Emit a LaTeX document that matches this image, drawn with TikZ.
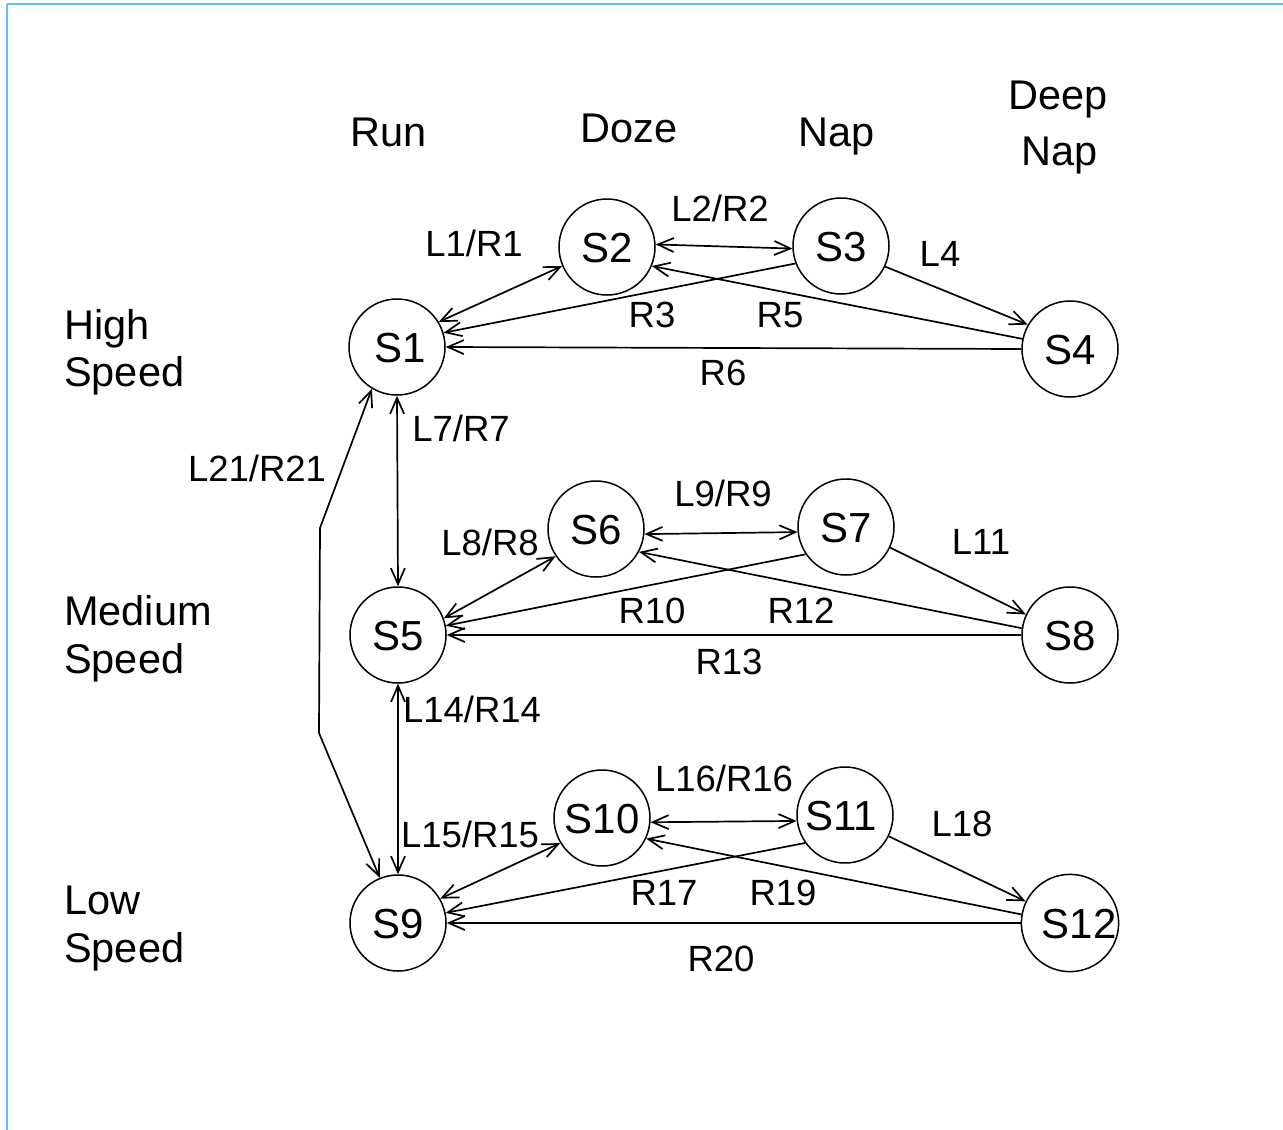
\documentclass[tikz,border=0pt]{standalone}
\usepackage{fontspec}
\setmainfont{Liberation Sans}
\usetikzlibrary{arrows.meta}
\definecolor{framecol}{HTML}{66BBFF}
\begin{document}
\begin{tikzpicture}[x=1pt,y=-1pt,
  state/.style={draw, circle, minimum size=96pt, inner sep=0pt, line width=1.5pt,
    font=\fontsize{42}{46}\selectfont, text height=30pt, text depth=0pt},
  lab/.style={font=\fontsize{36.5}{41}\selectfont, inner sep=0pt, text height=26pt, text depth=0pt},
  hdr/.style={font=\fontsize{41.5}{47.5}\selectfont, inner sep=0pt, text height=29.7pt, text depth=0pt},
  edge/.style={line width=1.7pt},
  arr/.style={edge, -{Straight Barb[length=16pt,width=14pt]}},
  barr/.style={edge, {Straight Barb[length=16pt,width=14pt]}-{Straight Barb[length=16pt,width=14pt]}},
  framel/.style={draw=framecol}
]
\useasboundingbox (0,0) rectangle (1283,1130);
\draw[framel, line width=2.5pt] (7,4) -- (1283,4);
\draw[framel, line width=2pt] (7,4) -- (7,1130);

% column headers
\node[hdr] (run) at (389,132) {Run};
\node[hdr] (doze) at (629,128) {Doze};
\node[hdr] (nap) at (837,132) {Nap};
\node[hdr] (deep1) at (1058,95) {Deep};
\node[hdr] (deep2) at (1060,151) {Nap};

% row headers
\node[hdr, anchor=west] (hs1) at (64,325) {High};
\node[hdr, anchor=west] (hs2) at (64,372) {Speed};
\node[hdr, anchor=west] (ms1) at (64,611) {Medium};
\node[hdr, anchor=west] (ms2) at (64,659) {Speed};
\node[hdr, anchor=west] (ls1) at (64,900) {Low};
\node[hdr, anchor=west] (ls2) at (64,948) {Speed};

% states
\node[state] (S1) at (397,347) {\hspace*{6pt}S1};
\node[state] (S2) at (607,247) {S2};
\node[state] (S3) at (841,246) {S3};
\node[state] (S4) at (1070,349) {S4};
\node[state] (S5) at (398,635) {S5};
\node[state] (S6) at (596,529) {S6};
\node[state] (S7) at (846,527) {S7};
\node[state] (S8) at (1070,635) {S8};
\node[state] (S9) at (398,923) {S9};
\node[state] (S10) at (602,818) {S10};
\node[state] (S11) at (845,815) {\hspace*{-8pt}S11};
\node[state] (S12) at (1070,923) {\hspace*{18pt}S12};

\coordinate (c1) at (320,528);
\coordinate (c2) at (319,733);

% high speed row
\draw[barr] (S1.31) -- (S2.203);
\draw[barr] (S2.3) -- (S3.183);
\draw[arr] (S3.201) -- (S1.17);
\draw[arr] (S4.168) -- (S2.337);
\draw[arr] (S3.335) -- (S4.150);
\draw[arr] (S4.180) -- (S1.0);
% vertical
\draw[barr] (S1.270) -- (S5.90);
\draw[barr] (S1.239) -- (c1) -- (c2) -- (S9.112);
\draw[barr] (S5.270) -- (S9.90);
% medium speed row
\draw[barr] (S5.20) -- (S6.214);
\draw[barr] (S6.-6) -- (S7.186);
\draw[arr] (S7.214) -- (S5.11);
\draw[arr] (S8.172) -- (S6.332);
\draw[arr] (S7.335) -- (S8.155);
\draw[arr] (S8.180) -- (S5.0);
% low speed row
\draw[barr] (S9.30) -- (S10.211);
\draw[barr] (S10.-5) -- (S11.187);
\draw[arr] (S11.215) -- (S9.12);
\draw[arr] (S12.170) -- (S10.335);
\draw[arr] (S11.334) -- (S12.154);
\draw[arr] (S12.180) -- (S9.0);

% edge labels
\node[lab] (l1) at (474,243) {L1/R1};
\node[lab] (l2) at (720,208) {L2/R2};
\node[lab] (l4) at (940,253) {L4};
\node[lab] (r3) at (652,314) {R3};
\node[lab] (r5) at (780,314) {R5};
\node[lab] (r6) at (723,372) {R6};
\node[lab] (l7) at (461,428) {L7/R7};
\node[lab] (l21) at (257,468) {L21/R21};
\node[lab] (l8) at (490,542) {L8/R8};
\node[lab] (l9) at (723,493) {L9/R9};
\node[lab] (l11) at (981,541) {L11};
\node[lab] (r10) at (652,610) {R10};
\node[lab] (r12) at (801,610) {R12};
\node[lab] (r13) at (729,661) {R13};
\node[lab] (l14) at (472,709) {L14/R14};
\node[lab] (l15) at (470,834) {L15/R15};
\node[lab] (l16) at (724,778) {L16/R16};
\node[lab] (l18) at (962,823) {L18};
\node[lab] (r17) at (664,892) {R17};
\node[lab] (r19) at (783,892) {R19};
\node[lab] (r20) at (721,958) {R20};
\end{tikzpicture}
\end{document}
